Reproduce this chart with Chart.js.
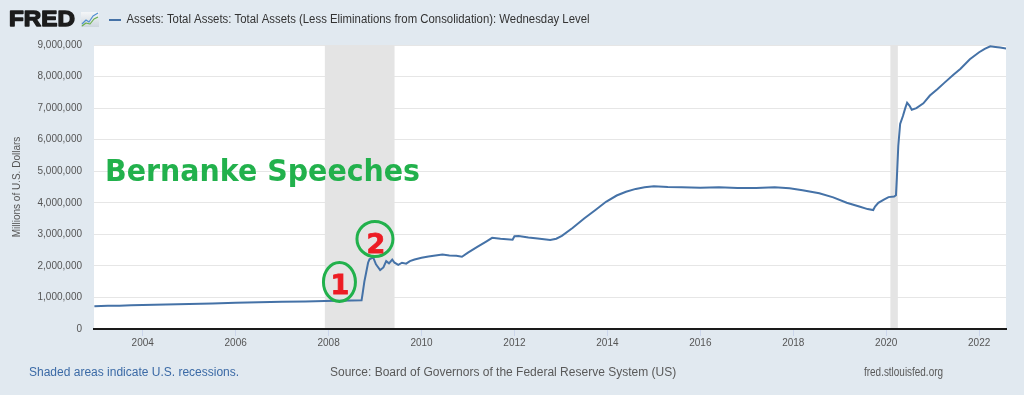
<!DOCTYPE html>
<html>
<head>
<meta charset="utf-8">
<script src="https://cdn.jsdelivr.net/npm/chart.js@4.4.1/dist/chart.umd.min.js"></script>
<style>
  html, body { margin: 0; padding: 0; background: #e1e9f0; }
  #wrap { width: 1024px; height: 395px; }
</style>
</head>
<body>
<div id="wrap"><canvas id="chart" width="1024" height="395"></canvas></div>
<script>
// Total assets of the Federal Reserve (WALCL), millions of dollars
var years = [
  2002.96, 2003.25, 2003.5, 2003.75, 2004.0, 2004.5, 2005.0, 2005.5, 2006.0, 2006.5,
  2007.0, 2007.5, 2007.92, 2008.2, 2008.5, 2008.71, 2008.73, 2008.77, 2008.81, 2008.85,
  2008.88, 2008.96, 2009.02, 2009.11, 2009.18, 2009.24, 2009.3, 2009.37, 2009.42, 2009.5,
  2009.58, 2009.67, 2009.75, 2009.85, 2010.0, 2010.15, 2010.3, 2010.45, 2010.6, 2010.75,
  2010.87, 2011.0, 2011.2, 2011.4, 2011.52, 2011.7, 2011.96, 2012.0, 2012.09, 2012.3,
  2012.5, 2012.77, 2012.9, 2013.02, 2013.25, 2013.5, 2013.75, 2013.97, 2014.2, 2014.4,
  2014.61, 2014.8, 2015.0, 2015.3, 2015.6, 2016.0, 2016.4, 2016.8, 2017.2, 2017.6,
  2017.92, 2018.2, 2018.56, 2018.86, 2019.15, 2019.42, 2019.6, 2019.72, 2019.76, 2019.83,
  2019.95, 2020.05, 2020.17, 2020.21, 2020.23, 2020.26, 2020.3, 2020.36, 2020.41, 2020.45,
  2020.5, 2020.55, 2020.65, 2020.8, 2020.94, 2021.1, 2021.25, 2021.44, 2021.6, 2021.8,
  2022.0, 2022.12, 2022.24, 2022.35, 2022.45, 2022.58
];
var assets = [
  720000, 735000, 740000, 750000, 760000, 775000, 795000, 810000, 830000, 845000,
  860000, 875000, 890000, 895000, 900000, 910000, 1100000, 1500000, 1800000, 2100000,
  2210000, 2270000, 2050000, 1870000, 1950000, 2150000, 2080000, 2200000, 2100000, 2030000,
  2100000, 2070000, 2150000, 2200000, 2260000, 2300000, 2330000, 2360000, 2330000, 2320000,
  2290000, 2420000, 2600000, 2780000, 2890000, 2860000, 2830000, 2940000, 2950000, 2900000,
  2870000, 2820000, 2860000, 2950000, 3200000, 3500000, 3780000, 4030000, 4230000, 4350000,
  4440000, 4490000, 4520000, 4500000, 4490000, 4480000, 4490000, 4470000, 4470000, 4490000,
  4460000, 4400000, 4300000, 4170000, 4000000, 3880000, 3800000, 3770000, 3880000, 4000000,
  4100000, 4180000, 4200000, 4240000, 4800000, 5800000, 6500000, 6750000, 7000000, 7170000,
  7080000, 6950000, 7000000, 7150000, 7400000, 7600000, 7800000, 8050000, 8250000, 8550000,
  8770000, 8880000, 8960000, 8940000, 8920000, 8890000
];

// recessions (decimal years)
var recessionStart = [2007.92, 2020.09];
var recessionEnd = [2009.42, 2020.25];

var tickYears = [2004, 2006, 2008, 2010, 2012, 2014, 2016, 2018, 2020, 2022];
var yTicks = [0, 1000000, 2000000, 3000000, 4000000, 5000000, 6000000, 7000000, 8000000, 9000000];

var seriesTitle = 'Assets: Total Assets: Total Assets (Less Eliminations from Consolidation): Wednesday Level';

var ctx = document.getElementById('chart').getContext('2d');

var fredPlugin = {
  id: 'fred',
  beforeDraw: function(chart) {
    var c = chart.ctx, a = chart.chartArea;
    c.save();
    c.fillStyle = '#e1e9f0';
    c.fillRect(0, 0, chart.width, chart.height);
    c.fillStyle = '#ffffff';
    c.fillRect(a.left, a.top, a.right - a.left, a.bottom - a.top);
    c.restore();
  },
  beforeDatasetsDraw: function(chart) {
    var c = chart.ctx, a = chart.chartArea, x = chart.scales.x;
    c.save();
    c.fillStyle = '#e4e4e4';
    for (var i = 0; i < recessionStart.length; i++) {
      var x0 = x.getPixelForValue(recessionStart[i]);
      var x1 = x.getPixelForValue(recessionEnd[i]);
      c.fillRect(x0, a.top, x1 - x0, a.bottom - a.top - 1);
    }
    c.restore();
  },
  afterDatasetsDraw: function(chart) {
    var c = chart.ctx, x = chart.scales.x, y = chart.scales.y;
    c.save();
    // big green label
    c.fillStyle = '#22b14c';
    c.font = 'bold 31px "DejaVu Sans"';
    c.textBaseline = 'alphabetic';
    c.fillText('Bernanke Speeches', x.getPixelForValue(2003.19), y.getPixelForValue(4690000), 315);

    // circled markers
    var marks = [
      { label: '1', cx: 2008.234, cy: 1489000, rx: 16, ry: 19.5, tx: 2008.245, ty: 1109000 },
      { label: '2', cx: 2008.998, cy: 2852000, rx: 18, ry: 17.5, tx: 2009.02, ty: 2408000 }
    ];
    marks.forEach(function(m) {
      c.beginPath();
      c.ellipse(x.getPixelForValue(m.cx), y.getPixelForValue(m.cy), m.rx, m.ry, 0, 0, Math.PI * 2);
      c.lineWidth = 3;
      c.strokeStyle = '#22b14c';
      c.stroke();
      c.fillStyle = '#ed1c24';
      c.strokeStyle = '#ed1c24';
      c.lineWidth = 0.8;
      c.font = 'bold 27px "DejaVu Sans"';
      c.textAlign = 'center';
      c.fillText(m.label, x.getPixelForValue(m.tx), y.getPixelForValue(m.ty));
      c.strokeText(m.label, x.getPixelForValue(m.tx), y.getPixelForValue(m.ty));
    });
    c.restore();
  },
  afterDraw: function(chart) {
    var c = chart.ctx;
    c.save();
    // FRED logo
    c.fillStyle = '#1c1c1c';
    c.strokeStyle = '#1c1c1c';
    c.lineWidth = 1.4;
    c.lineJoin = 'round';
    c.font = 'bold 22px "Liberation Sans"';
    c.textBaseline = 'alphabetic';
    c.save();
    c.translate(9, 26);
    c.scale(1.1, 1);
    c.fillText('FRED', 0, 0);
    c.strokeText('FRED', 0, 0);
    c.restore();
    // small chart icon
    var g = c.createLinearGradient(81, 12, 81, 27);
    g.addColorStop(0, '#f4f6f8');
    g.addColorStop(1, '#cdd6de');
    c.fillStyle = g;
    c.fillRect(81, 12, 18, 15);
    c.lineWidth = 1.2;
    c.strokeStyle = '#4f8fd0';
    c.beginPath();
    c.moveTo(82, 24); c.lineTo(86, 20); c.lineTo(89, 22); c.lineTo(93, 16); c.lineTo(98, 13);
    c.stroke();
    c.strokeStyle = '#6ab04c';
    c.beginPath();
    c.moveTo(82, 26); c.lineTo(86, 23); c.lineTo(90, 24); c.lineTo(94, 19); c.lineTo(98, 17);
    c.stroke();

    // legend
    c.strokeStyle = '#4572a7';
    c.lineWidth = 2;
    c.beginPath();
    c.moveTo(109, 20); c.lineTo(121, 20);
    c.stroke();
    c.fillStyle = '#333333';
    c.font = '12px "Liberation Sans"';
    c.textBaseline = 'middle';
    c.fillText(seriesTitle, 126.5, 20, 463);

    // footer
    c.font = '12px "Liberation Sans"';
    c.fillStyle = '#3b6aa6';
    c.fillText('Shaded areas indicate U.S. recessions.', 29, 373, 215);
    c.fillStyle = '#595959';
    c.fillText('Source: Board of Governors of the Federal Reserve System (US)', 330, 373, 355);
    c.fillText('fred.stlouisfed.org', 864, 373, 79);
    c.restore();
  }
};

var chart = new Chart(ctx, {
  type: 'line',
  data: {
    datasets: [{
      label: seriesTitle,
      data: years.map(function(yr, i) { return { x: yr, y: assets[i] }; }),
      borderColor: '#4572a7',
      borderWidth: 2,
      pointRadius: 0,
      tension: 0,
      fill: false
    }]
  },
  options: {
    responsive: false,
    animation: false,
    devicePixelRatio: 1,
    layout: { padding: { top: 45, right: 18, left: 0, bottom: 0 } },
    plugins: {
      legend: { display: false },
      tooltip: { enabled: false }
    },
    scales: {
      x: {
        type: 'linear',
        min: 2002.952,
        max: 2022.578,
        afterBuildTicks: function(scale) {
          scale.ticks = tickYears.map(function(v) { return { value: v }; });
        },
        afterFit: function(scale) { scale.height = 66; },
        grid: {
          drawOnChartArea: false,
          drawTicks: true,
          tickLength: 7,
          color: '#ccd6eb'
        },
        border: { display: true, color: '#1a1a1a', width: 2 },
        ticks: {
          padding: 1,
          maxRotation: 0,
          autoSkip: false,
          color: '#555555',
          font: { family: 'Liberation Sans', size: 10 },
          callback: function(v) { return String(v); }
        }
      },
      y: {
        min: 0,
        max: 9000000,
        afterBuildTicks: function(scale) {
          scale.ticks = yTicks.map(function(v) { return { value: v }; });
        },
        afterFit: function(scale) { scale.width = 94; },
        grid: { color: '#e6e6e6', lineWidth: 1, drawTicks: false },
        border: { display: false },
        title: {
          display: true,
          text: 'Millions of U.S. Dollars',
          color: '#555555',
          font: { family: 'Liberation Sans', size: 10 },
          padding: { top: 11, bottom: 0 }
        },
        ticks: {
          padding: 12,
          color: '#555555',
          font: { family: 'Liberation Sans', size: 10 },
          callback: function(v) { return v.toLocaleString('en-US'); }
        }
      }
    }
  },
  plugins: [fredPlugin]
});
</script>
</body>
</html>
